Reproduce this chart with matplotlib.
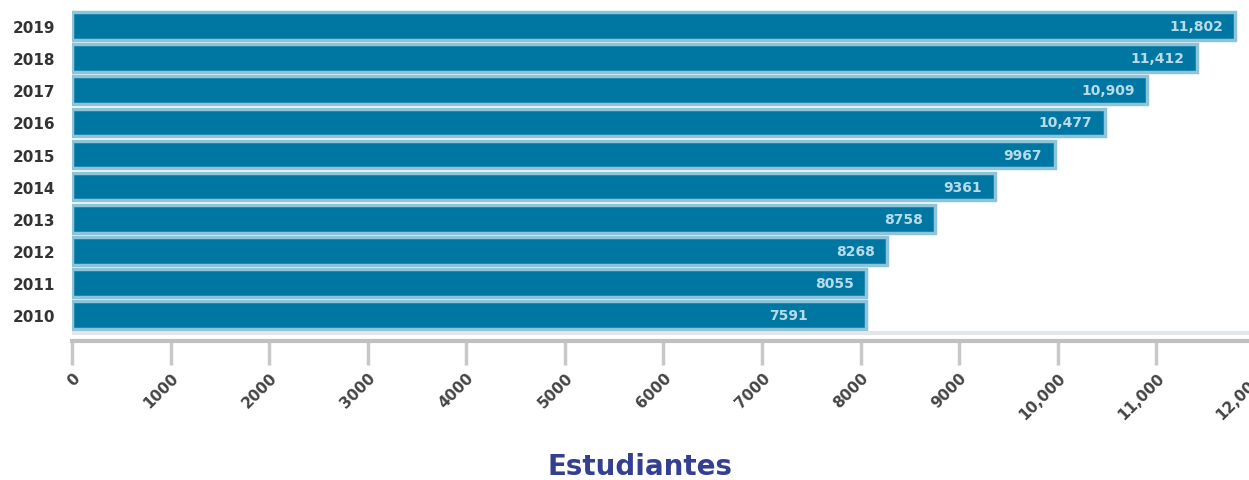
import matplotlib
matplotlib.use("Agg")
import matplotlib.pyplot as plt

years = ['2010', '2011', '2012', '2013', '2014', '2015', '2016', '2017', '2018', '2019']
values = [7591, 8055, 8268, 8758, 9361, 9967, 10477, 10909, 11412, 11802]
# the 2010 bar in the source is drawn as long as 2011
bar_lengths = [8055, 8055, 8268, 8758, 9361, 9967, 10477, 10909, 11412, 11802]
xticks = [0, 1000, 2000, 3000, 4000, 5000, 6000, 7000, 8000, 9000, 10000, 11000, 12000]

plt.rcParams['font.family'] = ['DejaVu Sans']

W, H = 1249, 481
fig = plt.figure(figsize=(W / 100, H / 100), dpi=100)
# 0 at x=72, 12000 at x=1255 (just past the right edge)
ax = fig.add_axes([72 / W, 1 - 336 / H, (1255 - 72) / W, (336 - 11) / H])

# spines first: set_position resets the ticks
for s in ['top', 'right', 'left']:
    ax.spines[s].set_visible(False)
ax.spines['bottom'].set_position(('outward', 4))
ax.spines['bottom'].set_color('#c0c0c0')
ax.spines['bottom'].set_linewidth(3)

ypos = list(range(len(years)))
ax.barh(ypos, bar_lengths, height=0.86, color='#0077a3',
        edgecolor='#8ec4da', linewidth=2.5)

for y, v in zip(ypos, values):
    txt = f'{v:,}' if v >= 10000 else str(v)
    ax.annotate(txt, (v, y), xytext=(-9, 0), textcoords='offset points',
                ha='right', va='center', color='#b9dbe8',
                fontsize=10, fontweight='bold')

ax.set_xlim(0, 12000)
ax.set_ylim(-0.62, len(years) - 0.5)
ax.axhspan(-0.62, -0.5, color='#e3e6e8', lw=0)

ax.tick_params(axis='y', length=0, pad=12)
ax.tick_params(axis='x', length=17, width=2.5, color='#c8c8c8', pad=4, direction='out')

ax.set_yticks(ypos)
ax.set_yticklabels(years, fontsize=11, fontweight='bold', color='#333333')

ax.set_xticks(xticks)
ax.set_xticklabels([f'{t:,}' if t >= 10000 else str(t) for t in xticks],
                   fontsize=11, fontweight='bold', color='#444444')
plt.setp(ax.get_xticklabels(), rotation=45, ha='right', rotation_mode='anchor')

fig.text(640 / W, 1 - 467 / H, 'Estudiantes', ha='center', va='center',
         fontsize=20, fontweight='bold', color='#34408f')

fig.savefig('out.png', dpi=100)
